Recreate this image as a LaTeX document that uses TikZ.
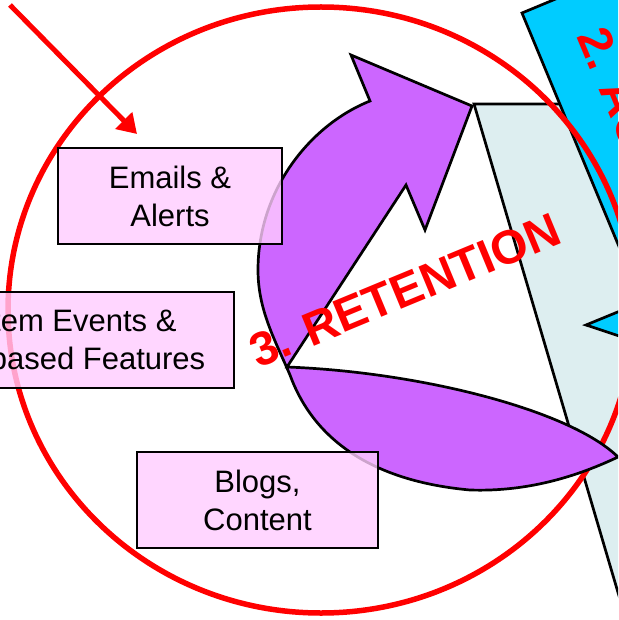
\documentclass[tikz,border=0pt]{standalone}
\usepackage{fontspec}
\setmainfont{Liberation Sans}
\usetikzlibrary{arrows.meta}
\definecolor{retpurple}{HTML}{CC66FF}
\definecolor{boxpink}{HTML}{FFCCFF}
\definecolor{actcyan}{HTML}{00CCFF}
\definecolor{paleblue}{HTML}{DDEEF0}
\definecolor{stagered}{HTML}{FF0000}

\begin{document}
\begin{tikzpicture}[x=1pt,y=-1pt,
  outline/.style={draw=black,line width=2.7pt,line join=miter},
  channel/.style={draw=black,line width=2.7pt,fill=boxpink,fill opacity=0.8,
    text opacity=1,align=center,inner sep=0pt,
    font=\fontsize{31}{38}\selectfont},
  stagelabel/.style={text=stagered,inner sep=0pt,
    font=\bfseries\fontsize{47.5}{47.5}\selectfont},
  ring/.style={draw=stagered,line width=5.5pt}]

\useasboundingbox (0,0) rectangle (618,620);
\clip (0,0) rectangle (618,620);

% stage 2 arrow (cyan) and the pale band behind it
\fill[paleblue] (474,104) -- (720,104) -- (800,640) -- (632,640) -- cycle;
\draw[outline] (632,640) -- (474,104) -- (600,104);
\filldraw[outline,fill=actcyan]
  (522,13) -- (707,-64) -- (780,200) -- (740,376) -- (586,325) -- (642,302) -- cycle;
\node[stagelabel,anchor=base west,rotate=-67.3] (actlabel) at (576,36) {2. ACTIVATION};

% stage ring
\draw[ring] (321,310) ellipse [x radius=313pt, y radius=303pt];

% stage 3 arrow (purple)
\filldraw[outline,fill=retpurple]
  (618,457) .. controls (570,410) and (420,372) .. (287,367)
  -- (406,185) -- (425,230) -- (472,106) -- (351,55) -- (370,101)
  .. controls (310,125) and (258,190) .. (258,270)
  .. controls (258,310) and (275,340) .. (290,375)
  .. controls (310,430) and (360,480) .. (470,490)
  .. controls (530,492) and (580,475) .. (618,457) -- cycle;

% retention channels
\node[channel,minimum width=224pt,minimum height=96pt] (emails) at (170,196) {Emails \&\\Alerts};
\node[channel,minimum width=351pt,minimum height=96pt] (events) at (58.5,340) {System Events \&\\Time-based Features};
\node[channel,minimum width=241pt,minimum height=96pt] (blogs) at (257.5,500) {Blogs,\\Content};

\node[stagelabel,anchor=base west,rotate=22.5] (retlabel) at (258,369) {3. RETENTION};

% incoming flow
\coordinate (flowstart) at (10,5);
\coordinate (flowend) at (137,134);
\draw[draw=stagered,line width=5pt,-{Triangle[length=19pt,width=23pt]}] (flowstart) -- (flowend);
\end{tikzpicture}
\end{document}
